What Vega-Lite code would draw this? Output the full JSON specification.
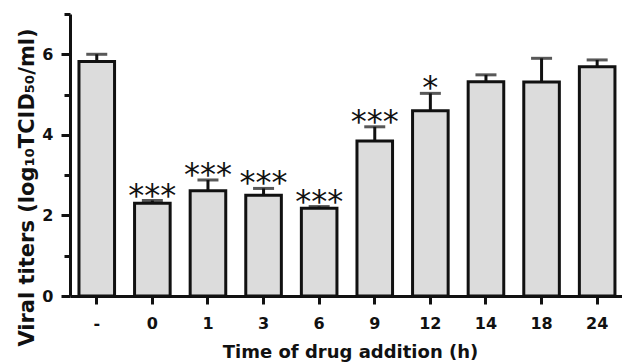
{
  "$schema": "https://vega.github.io/schema/vega-lite/v6.json",
  "width": 552,
  "height": 282,
  "autosize": "none",
  "padding": {"left": 70, "top": 14, "right": 0, "bottom": 68},
  "background": "white",
  "config": {
    "view": {"stroke": null},
    "axis": {
      "grid": false,
      "domainColor": "#111111",
      "domainWidth": 3,
      "tickColor": "#111111",
      "tickWidth": 3,
      "labelFont": "DejaVu Sans",
      "labelFontWeight": "bold",
      "labelColor": "#111111",
      "titleFont": "DejaVu Sans",
      "titleFontWeight": "bold",
      "titleColor": "#111111"
    }
  },
  "data": {
    "values": [
      {"time": "-", "mean": 5.82, "upper": 6.0, "sig": ""},
      {"time": "0", "mean": 2.30, "upper": 2.37, "sig": "***"},
      {"time": "1", "mean": 2.61, "upper": 2.88, "sig": "***"},
      {"time": "3", "mean": 2.50, "upper": 2.67, "sig": "***"},
      {"time": "6", "mean": 2.18, "upper": 2.22, "sig": "***"},
      {"time": "9", "mean": 3.85, "upper": 4.20, "sig": "***"},
      {"time": "12", "mean": 4.60, "upper": 5.03, "sig": "*"},
      {"time": "14", "mean": 5.32, "upper": 5.49, "sig": ""},
      {"time": "18", "mean": 5.31, "upper": 5.90, "sig": ""},
      {"time": "24", "mean": 5.69, "upper": 5.86, "sig": ""}
    ]
  },
  "resolve": {"axis": {"y": "independent"}},
  "layer": [
    {
      "mark": {"type": "bar", "fill": "#dcdcdc", "stroke": "#111111", "strokeWidth": 3},
      "encoding": {
        "x": {
          "field": "time", "type": "nominal", "sort": null,
          "scale": {"paddingInner": 0.36, "paddingOuter": 0.144, "align": 0.56},
          "axis": {
            "title": "Time of drug addition (h)",
            "labelAngle": 0,
            "labelFontSize": 16,
            "labelPadding": 11,
            "tickSize": 8,
            "titleFontSize": 18,
            "titleX": 280,
            "titleY": 61,
            "titleAlign": "center",
            "titleBaseline": "alphabetic"
          }
        },
        "y": {
          "field": "mean", "type": "quantitative",
          "scale": {"domain": [0, 7], "nice": false},
          "axis": {
            "orient": "left",
            "values": [0, 2, 4, 6],
            "tickSize": 9,
            "labelFontSize": 16,
            "labelPadding": 8,
            "title": "Viral titers (log₁₀TCID₅₀/ml)",
            "titleFontSize": 21,
            "titleAngle": -90,
            "titleX": -37,
            "titleY": 173,
            "titleAlign": "center",
            "titleBaseline": "alphabetic"
          }
        }
      }
    },
    {
      "mark": {"type": "rule", "color": "#111111", "strokeWidth": 3},
      "encoding": {
        "x": {"field": "time", "type": "nominal", "sort": null},
        "y": {
          "field": "mean", "type": "quantitative",
          "axis": {"orient": "left", "values": [1, 3, 5, 7], "tickSize": 6, "labels": false, "domain": false, "title": null}
        },
        "y2": {"field": "upper"}
      }
    },
    {
      "mark": {"type": "tick", "orient": "horizontal", "color": "#111111", "size": 21, "thickness": 3},
      "encoding": {
        "x": {"field": "time", "type": "nominal", "sort": null},
        "y": {"field": "upper", "type": "quantitative", "axis": null}
      }
    },
    {
      "mark": {"type": "text", "font": "DejaVu Sans", "fontSize": 32, "baseline": "alphabetic", "dy": 5, "color": "#111111"},
      "encoding": {
        "x": {"field": "time", "type": "nominal", "sort": null},
        "y": {"field": "upper", "type": "quantitative", "axis": null},
        "text": {"field": "sig"}
      }
    }
  ]
}
